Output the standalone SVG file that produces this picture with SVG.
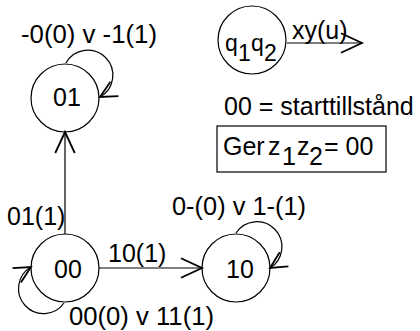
<svg xmlns="http://www.w3.org/2000/svg" width="420" height="331" viewBox="0 0 420 331">
<defs>
<style>
.n{fill:none;stroke:#000;stroke-width:1.2}
.e{fill:none;stroke:#000;stroke-width:1.2}
text{font-family:"Liberation Sans",Arial,sans-serif;font-size:25px;fill:#000}
.c{text-anchor:middle}
.s{font-size:23px}
</style>
<marker id="a" markerUnits="userSpaceOnUse" markerWidth="30" markerHeight="30" refX="0" refY="0" viewBox="-16 -10 20 20" orient="auto" overflow="visible">
<path d="M-14,-6.5 L0,0 L-14,6.5" fill="none" stroke="#000" stroke-width="1.2"/>
</marker>
<marker id="b" markerUnits="userSpaceOnUse" markerWidth="30" markerHeight="30" refX="0" refY="0" viewBox="-16 -10 20 20" orient="auto" overflow="visible">
<path d="M-11,-5.5 L0,0 L-11,5.5" fill="none" stroke="#000" stroke-width="1.2"/>
</marker>
</defs>
<rect width="420" height="331" fill="#fff"/>
<g id="edges">
<line class="e" x1="65" y1="234" x2="65" y2="132" marker-end="url(#a)"/>
<line class="e" x1="99" y1="268" x2="202" y2="268" marker-end="url(#a)"/>
<path class="e" d="M66,63 A25,25 0 1,1 100,97" marker-end="url(#b)"/>
<path class="e" d="M236,233 A25,25 0 1,1 270,268" marker-end="url(#b)"/>
<path class="e" d="M64,303 A25,25 0 1,1 31,267" marker-end="url(#b)"/>
<line class="e" x1="287" y1="43" x2="362" y2="43" marker-end="url(#a)"/>
<text x="21" y="43" textLength="136" lengthAdjust="spacingAndGlyphs">-0(0) v -1(1)</text>
<text x="7" y="225">01(1)</text>
<text x="108" y="262">10(1)</text>
<text x="172" y="215" textLength="134" lengthAdjust="spacingAndGlyphs">0-(0) v 1-(1)</text>
<text x="69" y="325" textLength="145" lengthAdjust="spacingAndGlyphs">00(0) v 11(1)</text>
<text x="292" y="39">xy(u)</text>
</g>
<g id="n01">
<circle class="n" cx="65" cy="98" r="34"/>
<text class="c" x="67" y="106">01</text>
</g>
<g id="n00">
<circle class="n" cx="65" cy="268" r="34"/>
<text class="c" x="68" y="278">00</text>
</g>
<g id="n10">
<circle class="n" cx="236" cy="268" r="34"/>
<text class="c" x="240" y="278">10</text>
</g>
<g id="legend">
<circle class="n" cx="252" cy="40" r="34"/>
<text class="s" x="225" y="51">q<tspan x="238" y="61">1</tspan><tspan x="251" y="51">q</tspan><tspan x="264" y="61">2</tspan></text>
<text x="224" y="115">00 = starttillstånd</text>
<rect class="n" x="217" y="126" width="169" height="46"/>
<text x="223" y="155">Ger<tspan x="268" y="155">z</tspan><tspan x="282" y="165">1</tspan><tspan x="297" y="155">z</tspan><tspan x="309" y="165">2</tspan><tspan x="324" y="155">= 00</tspan></text>
</g>
</svg>
